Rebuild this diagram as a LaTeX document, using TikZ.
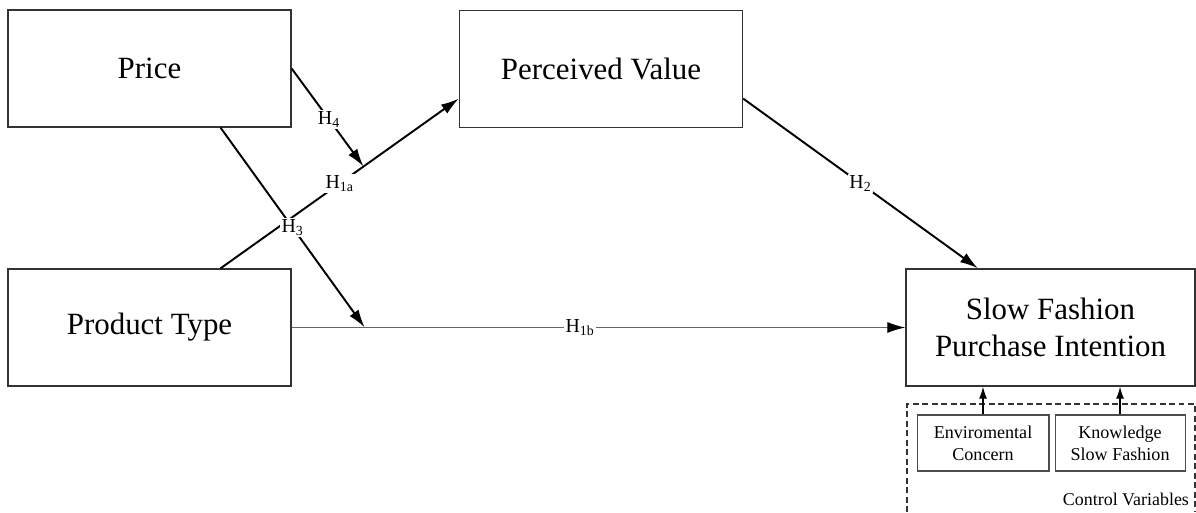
\documentclass[tikz,border=0pt]{standalone}
\usepackage{fontspec}
\setmainfont{Liberation Serif}
\usetikzlibrary{arrows.meta, positioning, calc}

\begin{document}
\begin{tikzpicture}[
    x=0.02cm, y=-0.02cm,
    factor/.style={rectangle, draw=black!80, line width=0.8pt, minimum width=5.66cm, minimum height=2.34cm, align=center, font=\fontsize{17.6}{21}\selectfont},
    control/.style={rectangle, draw=black!70, line width=0.6pt, minimum width=2.64cm, minimum height=1.12cm, align=center, font=\fontsize{10.3}{12.3}\selectfont},
    arrow/.style={-{Latex[length=3.6mm, width=2.2mm]}, line width=1.1pt},
    small arrow/.style={-{Latex[length=2.4mm, width=1.6mm]}, line width=0.7pt},
    hyp/.style={font=\fontsize{11.3}{13}\selectfont, fill=white, inner sep=1pt}
]
\useasboundingbox (0,0) rectangle (1196,512);

% Constructs
\node[factor] (price) at (149.5,68.5) {Price};
\node[factor] (value) at (601,69) {Perceived Value};
\node[factor] (type) at (149.5,327.5) {Product Type};
\node[factor, minimum width=5.78cm] (intention) at (1050.5,327.5) {Slow Fashion\\Purchase Intention};

% Control variables
\node[control] (env) at (983,443) {Enviromental\\Concern};
\node[control, minimum width=2.6cm, right=0.1cm of env] (know) {Knowledge\\Slow Fashion};
\draw[dash pattern=on 3.4pt off 2pt, black!80, line width=0.6pt] (907,512) -- (907,404) -- (1195,404) -- (1195,512);
\node[font=\fontsize{10.2}{12}\selectfont, anchor=east, inner sep=1pt] (ctrl) at (1191,499) {Control Variables};

\draw[small arrow] (env.north) -- (env.north |- intention.south);
\draw[small arrow] (know.north) -- (know.north |- intention.south);

% Hypotheses
\coordinate (a1) at ($(type.north west)!0.75!(type.north east)$);
\coordinate (a2) at ($(value.north west)!0.75!(value.south west)$);
\coordinate (h4end) at ($(a1)!0.6!(a2)$);
\coordinate (h3start) at ($(price.south west)!0.75!(price.south east)$);
\coordinate (h3end) at ($(type.east)!0.119!(intention.west)$);
\coordinate (b1) at ($(value.north east)!0.75!(value.south east)$);
\coordinate (b2) at ($(intention.north west)!0.25!(intention.north east)$);

\draw[arrow] (a1) -- node[hyp] {H\textsubscript{1a}} (a2);
\draw[-{Latex[length=3.6mm, width=2.2mm, black]}, draw=black!60, line width=0.7pt] (type.east) -- node[hyp, pos=0.47] {H\textsubscript{1b}} (intention.west);
\draw[arrow] (b1) -- node[hyp] {H\textsubscript{2}} (b2);
\draw[arrow] (h3start) -- node[hyp] {H\textsubscript{3}} (h3end);
\draw[arrow] (price.east) -- node[hyp, pos=0.52] {H\textsubscript{4}} (h4end);

\end{tikzpicture}
\end{document}
